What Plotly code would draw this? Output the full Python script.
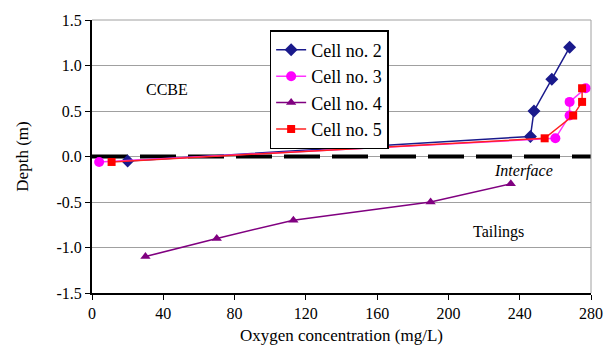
import plotly.graph_objects as go

cell2_x = [20, 246, 248, 258, 268]
cell2_y = [-0.05, 0.22, 0.5, 0.85, 1.2]
cell3_x = [4, 260, 268, 268, 277]
cell3_y = [-0.06, 0.2, 0.45, 0.6, 0.75]
cell4_x = [30, 70, 113, 190, 235]
cell4_y = [-1.1, -0.9, -0.7, -0.5, -0.3]
cell5_x = [11, 254, 270, 275, 275]
cell5_y = [-0.06, 0.2, 0.45, 0.6, 0.75]
interface_x = [0, 280]
interface_y = [0, 0]

x_ticks = [0, 40, 80, 120, 160, 200, 240, 280]
y_ticks = [-1.5, -1.0, -0.5, 0.0, 0.5, 1.0, 1.5]
y_tick_labels = ["-1.5", "-1.0", "-0.5", "0.0", "0.5", "1.0", "1.5"]

FONT = "Liberation Serif, Times New Roman, DejaVu Serif, serif"

fig = go.Figure()
fig.add_trace(go.Scatter(x=interface_x, y=interface_y, mode="lines",
                         line=dict(color="black", width=4, dash="36px,12px"),
                         showlegend=False, hoverinfo="skip"))
fig.add_trace(go.Scatter(x=cell2_x, y=cell2_y, mode="lines+markers", name="Cell no. 2",
                         line=dict(color="#1a1a8c", width=1.5),
                         marker=dict(symbol="diamond", size=10, color="#1a1a8c")))
fig.add_trace(go.Scatter(x=cell3_x, y=cell3_y, mode="lines+markers", name="Cell no. 3",
                         line=dict(color="#ff33ff", width=1.5),
                         marker=dict(symbol="circle", size=10, color="#ff00ff")))
fig.add_trace(go.Scatter(x=cell4_x, y=cell4_y, mode="lines+markers", name="Cell no. 4",
                         line=dict(color="#800080", width=1.5),
                         marker=dict(symbol="triangle-up", size=9, color="#800080")))
fig.add_trace(go.Scatter(x=cell5_x, y=cell5_y, mode="lines+markers", name="Cell no. 5",
                         line=dict(color="#ff2020", width=1.5),
                         marker=dict(symbol="square", size=8, color="#ff0000")))

fig.update_layout(
    width=615, height=354,
    margin=dict(l=92, r=18, t=19, b=61),
    paper_bgcolor="white", plot_bgcolor="white",
    font=dict(family=FONT, size=16, color="black"),
    legend=dict(x=0.356, y=0.963, xanchor="left", yanchor="top",
                bordercolor="black", borderwidth=1.5, bgcolor="white",
                font=dict(family=FONT, size=18), tracegroupgap=0,
                itemwidth=30),
    xaxis=dict(range=[0, 280], tickvals=x_ticks, showgrid=False,
               showline=True, linecolor="black", linewidth=2,
               ticks="outside", ticklen=5, tickcolor="black",
               mirror=False, zeroline=False,
               title=dict(text="Oxygen concentration (mg/L)", font=dict(size=17), standoff=8)),
    yaxis=dict(range=[-1.5, 1.5], tickvals=y_ticks, ticktext=y_tick_labels,
               showgrid=True, gridcolor="#a0a0a0", gridwidth=1,
               showline=True, linecolor="black", linewidth=2,
               ticks="outside", ticklen=5, tickcolor="black",
               zeroline=False,
               title=dict(text="Depth (m)", font=dict(size=17), standoff=24)),
    shapes=[dict(type="line", xref="paper", yref="paper", x0=1, x1=1, y0=0, y1=1,
                 line=dict(color="#a0a0a0", width=1)),
            dict(type="line", xref="paper", yref="paper", x0=0, x1=1, y0=1, y1=1,
                 line=dict(color="#a0a0a0", width=1))],
    annotations=[
        dict(x=42, y=0.74, text="CCBE", showarrow=False, font=dict(size=16)),
        dict(x=242, y=-0.16, text="<i>Interface</i>", showarrow=False, font=dict(size=16)),
        dict(x=228, y=-0.83, text="Tailings", showarrow=False, font=dict(size=16)),
    ],
)

fig.write_html("out.html", config={"displayModeBar": False},
               post_script="document.body.style.margin='0';document.body.style.overflow='hidden';")
